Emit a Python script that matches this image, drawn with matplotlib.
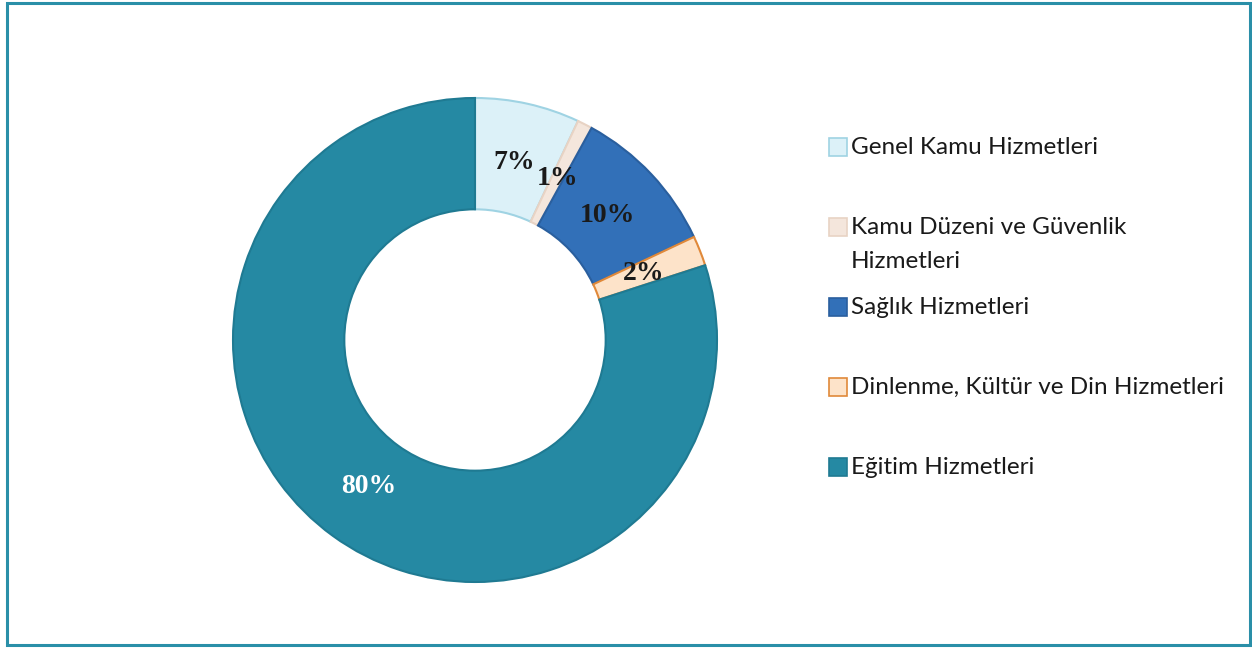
import matplotlib
matplotlib.use("Agg")
import matplotlib.pyplot as plt
from matplotlib.patches import Rectangle
import numpy as np

categories = ["Genel Kamu Hizmetleri", "Kamu Düzeni ve Güvenlik\nHizmetleri",
              "Sağlık Hizmetleri", "Dinlenme, Kültür ve Din Hizmetleri",
              "Eğitim Hizmetleri"]
values = [7, 1, 10, 2, 80]
pct_labels = ["7%", "1%", "10%", "2%", "80%"]
fill_colors = ["#dcf1f8", "#f4e6dc", "#3270b8", "#fde3c9", "#2589a3"]
edge_colors = ["#9fd3e3", "#e8d3c4", "#2a5f9e", "#e0893a", "#1f7a92"]
label_colors = ["#1a1a1a", "#1a1a1a", "#1a1a1a", "#1a1a1a", "white"]

W, H = 1252, 648
fig = plt.figure(figsize=(W / 100, H / 100), dpi=100)

# frame
fig.patches.append(Rectangle((7 / W, 3 / H), (1250 - 7) / W, (645 - 3) / H,
                             transform=fig.transFigure, fill=False,
                             edgecolor="#2a8fa8", linewidth=2.2))

cx, cy, R = 475, 340, 242
ax = fig.add_axes([(cx - R) / W, (H - cy - R) / H, 2 * R / W, 2 * R / H])
wedges, _ = ax.pie(values, startangle=90, counterclock=False, radius=1.0,
                   colors=fill_colors,
                   wedgeprops=dict(width=0.46, linewidth=1.5))
for w, ec in zip(wedges, edge_colors):
    w.set_edgecolor(ec)

cum = np.cumsum([0] + values)
total = sum(values)
for i, lab in enumerate(pct_labels):
    mid = (cum[i] + cum[i + 1]) / 2 / total * 360
    ang = np.deg2rad(90 - mid)
    r = 0.75
    ax.text(r * np.cos(ang), r * np.sin(ang), lab, ha="center", va="center",
            fontsize=20, fontweight="bold", family="Liberation Serif",
            color=label_colors[i])
ax.set_xlim(-1, 1)
ax.set_ylim(-1, 1)
ax.set_aspect("auto")
ax.axis("off")

# legend
rows_y = [147, 227, 307, 387, 467]
for lab, fc, ec, y in zip(categories, fill_colors, edge_colors, rows_y):
    s = 18
    fig.patches.append(Rectangle((829 / W, (H - y - s / 2) / H), s / W, s / H,
                                 transform=fig.transFigure, facecolor=fc,
                                 edgecolor=ec, linewidth=1.2))
    for k, line in enumerate(lab.split("\n")):
        fig.text(851 / W, (H - y - 35 * k) / H, line, ha="left", va="center",
                 fontsize=17.5, family="Lato", color="#1a1a1a")

fig.savefig("out.png", dpi=100)
